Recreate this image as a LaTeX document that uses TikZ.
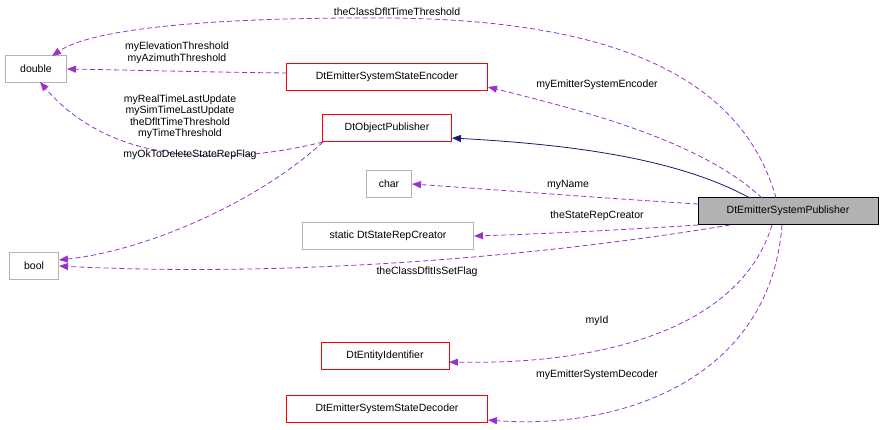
\documentclass[tikz,border=0pt]{standalone}
\usepackage{fontspec}
\setmainfont{Liberation Sans}
\usetikzlibrary{arrows.meta}
\begin{document}
\begin{tikzpicture}[x=1pt,y=-1pt,font=\fontsize{10.5}{12}\selectfont,
 box/.style={draw=#1,fill=white,minimum height=27pt,inner xsep=6pt,anchor=center},
 rel/.style={draw={rgb,255:red,153;green,50;blue,204},line width=0.8pt,dashed,dash pattern=on 5pt off 3pt,-{Triangle[length=9pt,width=7pt]}},
 inh/.style={draw={rgb,255:red,25;green,25;blue,112},line width=0.8pt,-{Triangle[length=9pt,width=7pt]}},
 lab/.style={align=center,inner sep=0pt,font=\fontsize{10.5}{11.5}\selectfont}]
\useasboundingbox (0,0) rectangle (883,429);
\node[box=gray!60,minimum width=61pt] (double) at (36,69) {double};
\node[box=gray!60,minimum width=49pt] (bool) at (34,266) {bool};
\node[box=red,minimum width=201pt] (enc) at (387,77) {DtEmitterSystemStateEncoder};
\node[box=red,minimum width=129pt] (obj) at (387,128) {DtObjectPublisher};
\node[box=gray!60,minimum width=45pt] (char) at (389,184) {char};
\node[box=gray!60,minimum width=171pt] (src) at (388,236) {static DtStateRepCreator};
\node[box=black,fill=gray!60,minimum width=180pt] (pub) at (788,211) {DtEmitterSystemPublisher};
\node[box=red,minimum width=128pt] (eid) at (385,356) {DtEntityIdentifier};
\node[box=red,minimum width=201pt] (dec) at (387,409) {DtEmitterSystemStateDecoder};
\coordinate (pa) at (776,198);
\draw[rel] (pa) .. controls (740,70) and (600,20) .. (390,18) .. controls (200,17) and (90,30) .. (52,56);
\node[lab] at (397,12) {theClassDfltTimeThreshold};
\draw[rel] (762,198) .. controls (700,140) and (580,110) .. (488,87);
\node[lab] at (597,85) {myEmitterSystemEncoder};
\draw[inh] (750,198) .. controls (680,160) and (580,145) .. (452,138);
\draw[rel] (698,204) .. controls (600,198) and (500,190) .. (412,184);
\node[lab] at (568,185) {myName};
\draw[rel] (698,225) .. controls (620,230) and (540,234) .. (474,236);
\node[lab] at (597,216) {theStateRepCreator};
\draw[rel] (730,225) .. controls (550,255) and (300,278) .. (59,266);
\node[lab] at (427,272) {theClassDfltIsSetFlag};
\draw[rel] (772,225) .. controls (740,330) and (600,365) .. (449,362);
\node[lab] at (597,321) {myId};
\draw[rel] (782,225) .. controls (770,380) and (620,430) .. (488,420);
\node[lab] at (597,375) {myEmitterSystemDecoder};
\draw[rel] (287,73) .. controls (200,72) and (130,70) .. (67,69);
\node[lab] at (177,53) {myElevationThreshold\\myAzimuthThreshold};
\draw[rel] (323,142) .. controls (250,160) and (120,175) .. (40,82);
\node[lab] at (180,117) {myRealTimeLastUpdate\\mySimTimeLastUpdate\\theDfltTimeThreshold\\myTimeThreshold};
\draw[rel] (323,142) .. controls (260,200) and (150,250) .. (59,260);
\node[lab] at (190,155) {myOkToDeleteStateRepFlag};
\end{tikzpicture}
\end{document}
